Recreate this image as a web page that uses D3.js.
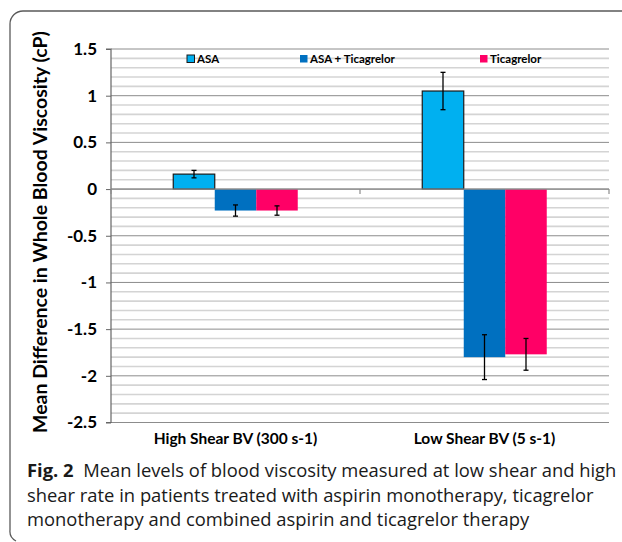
<!DOCTYPE html>
<html><head><meta charset="utf-8">
<script src="https://d3js.org/d3.v7.min.js"></script>
<style>body{margin:0;background:#fff}svg{display:block}</style>
</head><body>
<svg id="c" width="622" height="542"></svg>
<script>
const categories = ["High Shear BV (300 s-1)", "Low Shear BV (5 s-1)"];
const seriesNames = ["ASA", "ASA + Ticagrelor", "Ticagrelor"];
const seriesColors = ["#00B0F0", "#0070C0", "#FF0066"];
const asaValues = [0.16, 1.05];
const asaTicValues = [-0.23, -1.80];
const ticValues = [-0.23, -1.77];
const asaErr = [0.04, 0.20];
const asaTicErr = [0.06, 0.24];
const ticErr = [0.05, 0.17];
const yTicks = [1.5, 1, 0.5, 0, -0.5, -1, -1.5, -2, -2.5];
const yTitle = "Mean Difference in Whole Blood Viscosity (cP)";
const captionLines = [
  ["Fig. 2", "  Mean levels of blood viscosity measured at low shear and high"],
  ["", "shear rate in patients treated with aspirin monotherapy, ticagrelor"],
  ["", "monotherapy and combined aspirin and ticagrelor therapy"]
];

const values = [asaValues, asaTicValues, ticValues];
const errs = [asaErr, asaTicErr, ticErr];

const svg = d3.select("#c");
const L = 111, R = 609, T = 49, B = 422.5;
const y = d3.scaleLinear().domain([-2.5, 1.5]).range([B, T]);
const x0 = d3.scaleBand().domain(categories).range([L, R]).paddingInner(0).paddingOuter(0);
const x1 = d3.scaleBand().domain(seriesNames).range([0, x0.bandwidth()]).paddingInner(0).paddingOuter(1.5);

// frame
svg.append("path").attr("d", "M622,11 H23 A13,13 0 0 0 10,24 V530 A11,11 0 0 0 16,541")
  .attr("fill", "none").attr("stroke", "#5a5a5a").attr("stroke-width", 1.3);

// minor grid
const minor = d3.range(-25, 16).map(d => d / 10).filter(d => Math.abs(d * 2 - Math.round(d * 2)) > 1e-6);
svg.append("g").selectAll("line").data(minor).join("line")
  .attr("x1", L).attr("x2", R).attr("y1", d => y(d)).attr("y2", d => y(d))
  .attr("stroke", "#d4d4d4").attr("stroke-width", 1.6);
// major grid
svg.append("g").selectAll("line").data(yTicks).join("line")
  .attr("x1", L).attr("x2", R).attr("y1", d => y(d)).attr("y2", d => y(d))
  .attr("stroke", "#8c8c8c").attr("stroke-width", 1);

// y axis
const yAxis = d3.axisLeft(y).tickValues(yTicks).tickSize(5).tickPadding(9)
  .tickFormat(d => String(d));
const ya = svg.append("g").attr("transform", `translate(${L},0)`).call(yAxis);
ya.select(".domain").attr("stroke", "#666").attr("stroke-width", 1.2).attr("d", `M-5,${T}H0V${B}H-5`);
ya.selectAll(".tick line").attr("stroke", "#666");
ya.selectAll("text").attr("font-family", "Lato").attr("font-weight", "bold").attr("font-size", 17).attr("fill", "#000");

// bars
const g = svg.append("g");
seriesNames.forEach((s, si) => {
  g.append("g").selectAll("rect").data(categories).join("rect")
    .attr("x", c => x0(c) + x1(s))
    .attr("width", x1.bandwidth())
    .attr("y", (c, i) => y(Math.max(0, values[si][i])))
    .attr("height", (c, i) => Math.abs(y(values[si][i]) - y(0)))
    .attr("fill", seriesColors[si])
    .attr("stroke", si === 0 ? "#1a1a1a" : "none")
    .attr("stroke-width", 1.2);
});

// x axis at zero
const xa = svg.append("g");
xa.append("line").attr("x1", L).attr("x2", R).attr("y1", y(0)).attr("y2", y(0)).attr("stroke", "#8c8c8c").attr("stroke-width", 1.2);
[L, x0(categories[1]), R].forEach(px => {
  xa.append("line").attr("x1", px).attr("x2", px).attr("y1", y(0)).attr("y2", y(0) + 5).attr("stroke", "#8c8c8c").attr("stroke-width", 1.2);
});

// error bars
seriesNames.forEach((s, si) => {
  categories.forEach((c, i) => {
    const cx = x0(c) + x1(s) + x1.bandwidth() / 2;
    const v = values[si][i], e = errs[si][i];
    const eg = g.append("g").attr("stroke", "#000").attr("stroke-width", 1.3);
    eg.append("line").attr("x1", cx).attr("x2", cx).attr("y1", y(v + e)).attr("y2", y(v - e));
    [v + e, v - e].forEach(w => eg.append("line").attr("x1", cx - 2.5).attr("x2", cx + 2.5).attr("y1", y(w)).attr("y2", y(w)));
  });
});

// x labels
const xlab = svg.append("g");
categories.forEach((c, i) => {
  xlab.append("text").attr("x", x0(c) + x0.bandwidth() / 2).attr("y", 444)
    .attr("text-anchor", "middle").attr("font-family", "Lato").attr("font-weight", "bold")
    .attr("font-size", 15.5).text(c);
});

// legend
const legX = [187, 300, 480];
seriesNames.forEach((s, i) => {
  const lg = svg.append("g").attr("transform", `translate(${legX[i]},59)`);
  lg.append("rect").attr("x", 0).attr("y", -4).attr("width", 7.5).attr("height", 7.5)
    .attr("fill", seriesColors[i]).attr("stroke", i === 0 ? "#1a1a1a" : "none").attr("stroke-width", 1);
  lg.append("text").attr("x", 10).attr("y", 4).attr("font-family", "Lato").attr("font-weight", "bold")
    .attr("font-size", 11.5).text(s);
});

// y title
const yt = svg.append("text").attr("transform", "translate(47,232) rotate(-90)")
  .attr("text-anchor", "middle").attr("font-family", "Lato").attr("font-weight", "bold")
  .attr("font-size", 17).text(yTitle);
const w0 = yt.node().getComputedTextLength();
yt.attr("font-size", 17 * 402 / w0);

// caption
const capBase = [477, 501.5, 526];
const cap = svg.append("g");
const capTexts = [];
captionLines.forEach((ln, i) => {
  const t = cap.append("text").attr("x", 27).attr("y", capBase[i])
    .attr("font-family", "Open Sans").attr("font-size", 17.5).attr("fill", "#1a1a1a");
  if (ln[0]) t.append("tspan").attr("font-weight", "bold").text(ln[0]);
  t.append("tspan").style("white-space", "pre").text(ln[1]);
  capTexts.push(t);
});
const cw = capTexts[0].node().getComputedTextLength();
const fs = 17.5 * 590 / cw;
capTexts.forEach(t => t.attr("font-size", fs));
</script>
</body></html>
